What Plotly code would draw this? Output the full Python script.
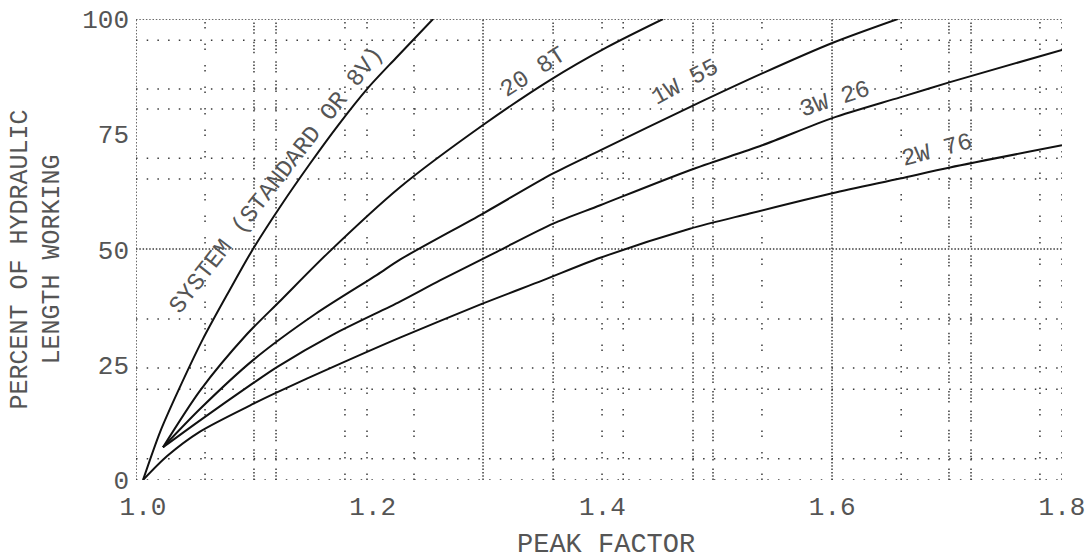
import plotly.graph_objects as go

# ---- data ----
peak_1 = [1.0, 1.015, 1.03, 1.052, 1.075, 1.095, 1.12, 1.145, 1.17, 1.195, 1.22, 1.2525]
pct_1 = [0, 10.5, 19, 30.5, 41, 49.8, 59.5, 68.5, 77, 84.8, 91.5, 100]

peak_2 = [1.0174, 1.05, 1.09, 1.12, 1.16, 1.2237, 1.296, 1.354, 1.404, 1.4527]
pct_2 = [7.1, 19.5, 31.5, 39, 49, 63.5, 77, 86.7, 93.9, 100]

peak_3 = [1.0174, 1.05, 1.0958, 1.15, 1.2037, 1.2237, 1.296, 1.357, 1.398, 1.476, 1.539, 1.6, 1.657]
pct_3 = [7.1, 15.5, 26, 36, 44.5, 47.8, 57.8, 66.5, 71.5, 80.9, 88.2, 94.8, 100]

peak_4 = [1.0174, 1.05, 1.0958, 1.1166, 1.165, 1.2237, 1.2585, 1.308, 1.357, 1.398, 1.476, 1.539, 1.6, 1.659, 1.7025, 1.8]
pct_4 = [7.1, 13, 21, 24.5, 31.5, 38.7, 43.3, 49.5, 55.6, 59.6, 67.2, 72.6, 78.5, 83.0, 86.3, 93.3]

peak_5 = [1.0, 1.021, 1.0496, 1.0958, 1.1166, 1.165, 1.2237, 1.296, 1.348, 1.398, 1.476, 1.528, 1.6, 1.659, 1.7025, 1.8]
pct_5 = [0, 5.2, 10.5, 16.5, 19, 24.5, 30.9, 38.3, 43.3, 48.2, 54.5, 57.8, 62.2, 65.4, 67.8, 72.6]

curve_names = ["SYSTEM (STANDARD OR 8V)", "20 8T", "1W 55", "3W 26", "2W 76"]
label_x = [1.116, 1.3395, 1.4718, 1.6024, 1.6912]
label_y = [65.0, 88.5, 86.3, 82.5, 71.5]
label_angle = [-52, -33, -28, -18, -15]

x_ticks = [1.0, 1.2, 1.4, 1.6, 1.8]
x_tick_text = ["1.0", "1.2", "1.4", "1.6", "1.8"]
y_ticks = [0, 25, 50, 75, 100]
y_tick_text = ["0", "25", "50", "75", "100"]

grid_x_dense = [0.9939, 1.296, 1.5998]
grid_x_medium = [1.0966, 1.1158, 1.357, 1.4788, 1.4962, 1.7016, 1.7208]
grid_x_sparse = [1.054, 1.1758, 1.195, 1.2359, 1.3996, 1.418, 1.5388, 1.66, 1.7808, 1.8]
grid_y_dense = [100, 50.1]
grid_y_sparse = [0, 4.6, 19.7, 24.3, 34.9, 65.3, 69.8, 80.5, 84.8, 95.4]

FONT = "Liberation Mono"
TXT = "#555555"
GRID = "#3a3a3a"

fig = go.Figure()
series = [(peak_1, pct_1), (peak_2, pct_2), (peak_3, pct_3), (peak_4, pct_4), (peak_5, pct_5)]
for (xs, ys), name in zip(series, curve_names):
    fig.add_trace(go.Scatter(x=xs, y=ys, mode="lines", name=name,
                             line=dict(color="#111111", width=2, shape="spline", smoothing=0.8),
                             showlegend=False, hoverinfo="skip"))

shapes = []
dash_styles = {"dense": "1.5px,1.8px", "medium": "1.5px,1.8px,1.5px,1.8px,1.5px,1.8px,1.5px,8px",
               "sparse": "1.5px,3.5px,1.5px,15px", "hsparse": "1.5px,9.2px"}
for xv in grid_x_dense:
    shapes.append(dict(type="line", xref="x", yref="paper", x0=xv, x1=xv, y0=0, y1=1,
                       line=dict(color=GRID, width=1.5, dash=dash_styles["dense"]), layer="below"))
for xv in grid_x_medium:
    shapes.append(dict(type="line", xref="x", yref="paper", x0=xv, x1=xv, y0=0, y1=1,
                       line=dict(color=GRID, width=1.5, dash=dash_styles["medium"]), layer="below"))
for xv in grid_x_sparse:
    shapes.append(dict(type="line", xref="x", yref="paper", x0=xv, x1=xv, y0=0, y1=1,
                       line=dict(color=GRID, width=1.5, dash=dash_styles["sparse"]), layer="below"))
for yv in grid_y_dense:
    shapes.append(dict(type="line", xref="paper", yref="y", x0=0, x1=1, y0=yv, y1=yv,
                       line=dict(color=GRID, width=1.5, dash=dash_styles["dense"]), layer="below"))
for yv in grid_y_sparse:
    shapes.append(dict(type="line", xref="paper", yref="y", x0=0, x1=1, y0=yv, y1=yv,
                       line=dict(color=GRID, width=1.5, dash=dash_styles["hsparse"]), layer="below"))

annotations = []
for name, lx, ly, ang in zip(curve_names, label_x, label_y, label_angle):
    annotations.append(dict(x=lx, y=ly, xref="x", yref="y", text=name, showarrow=False,
                            textangle=ang, font=dict(family=FONT, size=24, color=TXT)))
annotations.append(dict(x=0, y=0.5, xref="paper", yref="paper", xanchor="center", yanchor="middle",
                        xshift=-100, yshift=-10, textangle=-90, showarrow=False,
                        text="PERCENT OF HYDRAULIC<br>LENGTH WORKING",
                        font=dict(family=FONT, size=25, color=TXT)))
annotations.append(dict(x=0.5076, y=0, xref="paper", yref="paper", xanchor="center", yanchor="middle",
                        yshift=-65, showarrow=False, text="PEAK FACTOR",
                        font=dict(family=FONT, size=27, color=TXT)))

fig.update_layout(
    width=1087, height=559,
    margin=dict(l=136, r=25, t=19, b=79, autoexpand=False),
    paper_bgcolor="white", plot_bgcolor="white",
    shapes=shapes, annotations=annotations,
    xaxis=dict(range=[0.9939, 1.8], tickmode="array", tickvals=x_ticks, ticktext=x_tick_text,
               showgrid=False, zeroline=False, showline=False, ticks="", automargin=False,
               ticklabelstandoff=8,
               tickfont=dict(family=FONT, size=26, color=TXT)),
    yaxis=dict(range=[0, 100], tickmode="array", tickvals=y_ticks, ticktext=y_tick_text,
               showgrid=False, zeroline=False, showline=False, ticks="", automargin=False,
               ticklabelstandoff=6,
               tickfont=dict(family=FONT, size=26, color=TXT)),
)

fig.write_html("out.html")
